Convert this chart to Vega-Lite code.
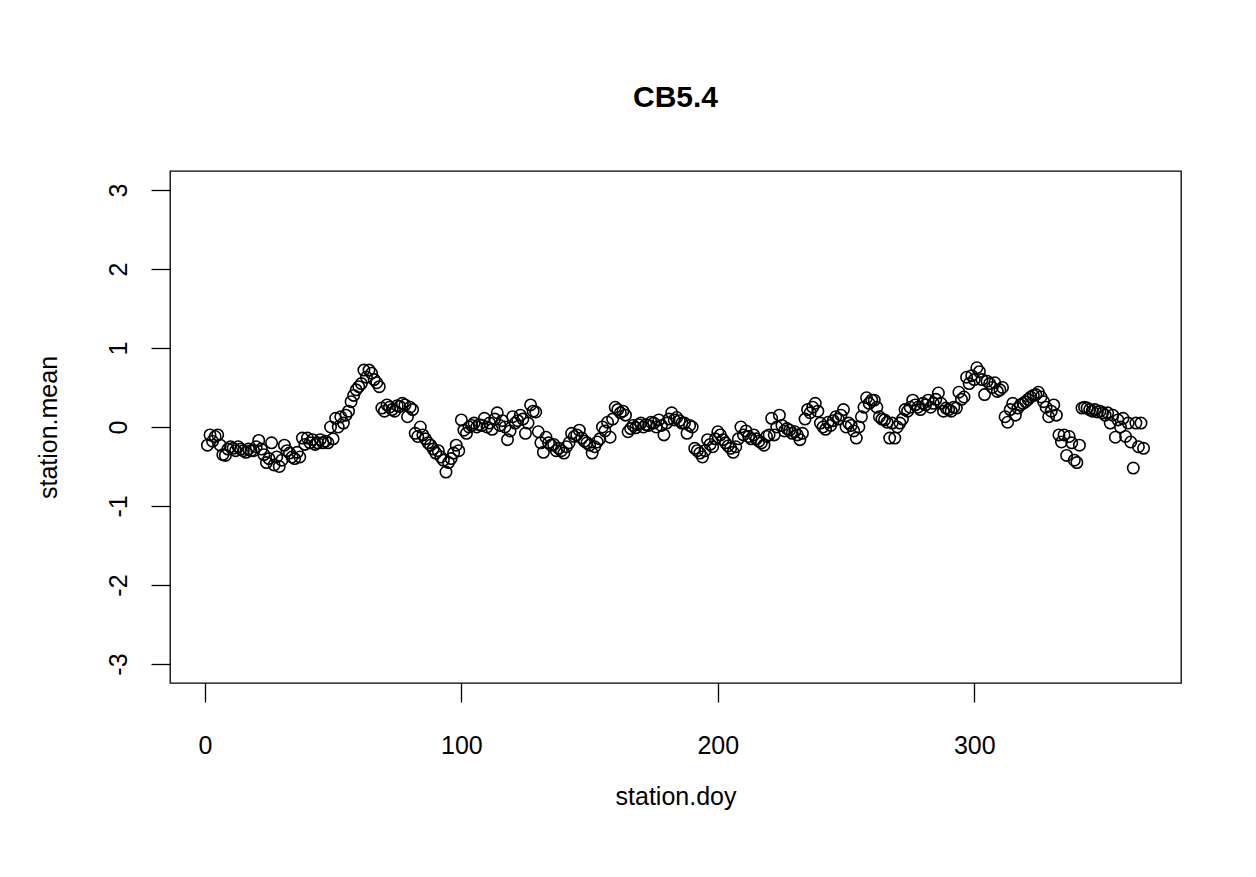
{
  "$schema": "https://vega.github.io/schema/vega-lite/v6.json",
  "width": 1011,
  "height": 512,
  "autosize": {"type": "none"},
  "padding": {"left": 170, "top": 171, "right": 75, "bottom": 194},
  "background": "white",
  "title": {
    "text": "CB5.4",
    "font": "Liberation Sans",
    "fontSize": 30,
    "fontWeight": "bold",
    "color": "black",
    "anchor": "middle",
    "baseline": "bottom",
    "offset": 28
  },
  "config": {
    "view": {"stroke": "black", "strokeWidth": 1.3},
    "axis": {
      "grid": false,
      "domain": false,
      "tickColor": "black",
      "tickWidth": 1.3,
      "tickSize": 19,
      "labelFont": "Liberation Sans",
      "labelFontSize": 25,
      "labelColor": "black",
      "titleFont": "Liberation Sans",
      "titleFontSize": 25,
      "titleFontWeight": "normal",
      "titleColor": "black"
    }
  },
  "data": {
    "values": [
      {"doy":1,"mean":-0.23},{"doy":2,"mean":-0.1},{"doy":3,"mean":-0.18},{"doy":4,"mean":-0.12},{"doy":5,"mean":-0.1},
      {"doy":6,"mean":-0.23},{"doy":7,"mean":-0.35},{"doy":8,"mean":-0.36},{"doy":9,"mean":-0.28},{"doy":10,"mean":-0.25},
      {"doy":11,"mean":-0.27},{"doy":12,"mean":-0.3},{"doy":13,"mean":-0.25},{"doy":14,"mean":-0.28},{"doy":15,"mean":-0.3},
      {"doy":16,"mean":-0.32},{"doy":17,"mean":-0.28},{"doy":18,"mean":-0.3},{"doy":19,"mean":-0.3},{"doy":20,"mean":-0.25},
      {"doy":21,"mean":-0.17},{"doy":22,"mean":-0.28},{"doy":23,"mean":-0.35},{"doy":24,"mean":-0.45},{"doy":25,"mean":-0.4},
      {"doy":26,"mean":-0.2},{"doy":27,"mean":-0.48},{"doy":28,"mean":-0.38},{"doy":29,"mean":-0.5},{"doy":30,"mean":-0.42},
      {"doy":31,"mean":-0.23},{"doy":32,"mean":-0.3},{"doy":33,"mean":-0.33},{"doy":34,"mean":-0.38},{"doy":35,"mean":-0.4},
      {"doy":36,"mean":-0.32},{"doy":37,"mean":-0.38},{"doy":38,"mean":-0.14},{"doy":39,"mean":-0.22},{"doy":40,"mean":-0.14},
      {"doy":41,"mean":-0.2},{"doy":42,"mean":-0.16},{"doy":43,"mean":-0.22},{"doy":44,"mean":-0.2},{"doy":45,"mean":-0.16},
      {"doy":46,"mean":-0.2},{"doy":47,"mean":-0.18},{"doy":48,"mean":-0.2},{"doy":49,"mean":0.0},{"doy":50,"mean":-0.15},
      {"doy":51,"mean":0.11},{"doy":52,"mean":0.0},{"doy":53,"mean":0.13},{"doy":54,"mean":0.05},{"doy":55,"mean":0.15},
      {"doy":56,"mean":0.2},{"doy":57,"mean":0.32},{"doy":58,"mean":0.4},{"doy":59,"mean":0.47},{"doy":60,"mean":0.51},
      {"doy":61,"mean":0.55},{"doy":62,"mean":0.72},{"doy":63,"mean":0.63},{"doy":64,"mean":0.72},{"doy":65,"mean":0.68},
      {"doy":66,"mean":0.6},{"doy":67,"mean":0.56},{"doy":68,"mean":0.51},{"doy":69,"mean":0.24},{"doy":70,"mean":0.2},
      {"doy":71,"mean":0.28},{"doy":72,"mean":0.25},{"doy":73,"mean":0.22},{"doy":74,"mean":0.2},{"doy":75,"mean":0.27},
      {"doy":76,"mean":0.26},{"doy":77,"mean":0.3},{"doy":78,"mean":0.28},{"doy":79,"mean":0.13},{"doy":80,"mean":0.25},
      {"doy":81,"mean":0.22},{"doy":82,"mean":-0.08},{"doy":83,"mean":-0.12},{"doy":84,"mean":0.0},{"doy":85,"mean":-0.1},
      {"doy":86,"mean":-0.15},{"doy":87,"mean":-0.2},{"doy":88,"mean":-0.23},{"doy":89,"mean":-0.28},{"doy":90,"mean":-0.33},
      {"doy":91,"mean":-0.3},{"doy":92,"mean":-0.38},{"doy":93,"mean":-0.42},{"doy":94,"mean":-0.57},{"doy":95,"mean":-0.45},
      {"doy":96,"mean":-0.4},{"doy":97,"mean":-0.33},{"doy":98,"mean":-0.23},{"doy":99,"mean":-0.3},{"doy":100,"mean":0.09},
      {"doy":101,"mean":-0.04},{"doy":102,"mean":-0.08},{"doy":103,"mean":0.0},{"doy":104,"mean":0.02},{"doy":105,"mean":0.05},
      {"doy":106,"mean":0.0},{"doy":107,"mean":0.03},{"doy":108,"mean":0.02},{"doy":109,"mean":0.11},{"doy":110,"mean":0.0},
      {"doy":111,"mean":0.05},{"doy":112,"mean":-0.03},{"doy":113,"mean":0.1},{"doy":114,"mean":0.18},{"doy":115,"mean":0.02},
      {"doy":116,"mean":0.08},{"doy":117,"mean":0.0},{"doy":118,"mean":-0.16},{"doy":119,"mean":-0.05},{"doy":120,"mean":0.13},
      {"doy":121,"mean":0.05},{"doy":122,"mean":0.08},{"doy":123,"mean":0.15},{"doy":124,"mean":0.1},{"doy":125,"mean":-0.08},
      {"doy":126,"mean":0.05},{"doy":127,"mean":0.28},{"doy":128,"mean":0.2},{"doy":129,"mean":0.19},{"doy":130,"mean":-0.06},
      {"doy":131,"mean":-0.2},{"doy":132,"mean":-0.32},{"doy":133,"mean":-0.13},{"doy":134,"mean":-0.2},{"doy":135,"mean":-0.23},
      {"doy":136,"mean":-0.22},{"doy":137,"mean":-0.3},{"doy":138,"mean":-0.27},{"doy":139,"mean":-0.3},{"doy":140,"mean":-0.33},
      {"doy":141,"mean":-0.25},{"doy":142,"mean":-0.2},{"doy":143,"mean":-0.08},{"doy":144,"mean":-0.12},{"doy":145,"mean":-0.1},
      {"doy":146,"mean":-0.04},{"doy":147,"mean":-0.14},{"doy":148,"mean":-0.18},{"doy":149,"mean":-0.2},{"doy":150,"mean":-0.23},
      {"doy":151,"mean":-0.33},{"doy":152,"mean":-0.25},{"doy":153,"mean":-0.19},{"doy":154,"mean":-0.15},{"doy":155,"mean":0.0},
      {"doy":156,"mean":-0.05},{"doy":157,"mean":0.06},{"doy":158,"mean":-0.13},{"doy":159,"mean":0.1},{"doy":160,"mean":0.25},
      {"doy":161,"mean":0.22},{"doy":162,"mean":0.18},{"doy":163,"mean":0.2},{"doy":164,"mean":0.15},{"doy":165,"mean":-0.06},
      {"doy":166,"mean":-0.02},{"doy":167,"mean":0.02},{"doy":168,"mean":-0.01},{"doy":169,"mean":0.03},{"doy":170,"mean":0.05},
      {"doy":171,"mean":0.0},{"doy":172,"mean":0.03},{"doy":173,"mean":0.02},{"doy":174,"mean":0.06},{"doy":175,"mean":0.05},
      {"doy":176,"mean":0.0},{"doy":177,"mean":0.09},{"doy":178,"mean":0.02},{"doy":179,"mean":-0.1},{"doy":180,"mean":0.05},
      {"doy":181,"mean":0.1},{"doy":182,"mean":0.18},{"doy":183,"mean":0.09},{"doy":184,"mean":0.12},{"doy":185,"mean":0.08},
      {"doy":186,"mean":0.05},{"doy":187,"mean":0.05},{"doy":188,"mean":-0.08},{"doy":189,"mean":0.02},{"doy":190,"mean":0.0},
      {"doy":191,"mean":-0.27},{"doy":192,"mean":-0.3},{"doy":193,"mean":-0.33},{"doy":194,"mean":-0.38},{"doy":195,"mean":-0.3},
      {"doy":196,"mean":-0.16},{"doy":197,"mean":-0.22},{"doy":198,"mean":-0.25},{"doy":199,"mean":-0.15},{"doy":200,"mean":-0.06},
      {"doy":201,"mean":-0.1},{"doy":202,"mean":-0.16},{"doy":203,"mean":-0.2},{"doy":204,"mean":-0.24},{"doy":205,"mean":-0.27},
      {"doy":206,"mean":-0.32},{"doy":207,"mean":-0.25},{"doy":208,"mean":-0.15},{"doy":209,"mean":0.0},{"doy":210,"mean":-0.1},
      {"doy":211,"mean":-0.05},{"doy":212,"mean":-0.12},{"doy":213,"mean":-0.15},{"doy":214,"mean":-0.1},{"doy":215,"mean":-0.15},
      {"doy":216,"mean":-0.18},{"doy":217,"mean":-0.2},{"doy":218,"mean":-0.23},{"doy":219,"mean":-0.12},{"doy":220,"mean":-0.1},
      {"doy":221,"mean":0.11},{"doy":222,"mean":-0.1},{"doy":223,"mean":0.0},{"doy":224,"mean":0.15},{"doy":225,"mean":0.02},
      {"doy":226,"mean":-0.05},{"doy":227,"mean":-0.02},{"doy":228,"mean":-0.04},{"doy":229,"mean":-0.08},{"doy":230,"mean":-0.06},
      {"doy":231,"mean":-0.1},{"doy":232,"mean":-0.16},{"doy":233,"mean":-0.08},{"doy":234,"mean":0.1},{"doy":235,"mean":0.22},
      {"doy":236,"mean":0.18},{"doy":237,"mean":0.25},{"doy":238,"mean":0.3},{"doy":239,"mean":0.2},{"doy":240,"mean":0.05},
      {"doy":241,"mean":0.0},{"doy":242,"mean":-0.03},{"doy":243,"mean":0.06},{"doy":244,"mean":0.02},{"doy":245,"mean":0.08},
      {"doy":246,"mean":0.13},{"doy":247,"mean":0.1},{"doy":248,"mean":0.15},{"doy":249,"mean":0.22},{"doy":250,"mean":0.0},
      {"doy":251,"mean":0.05},{"doy":252,"mean":0.02},{"doy":253,"mean":-0.05},{"doy":254,"mean":-0.14},{"doy":255,"mean":0.0},
      {"doy":256,"mean":0.13},{"doy":257,"mean":0.25},{"doy":258,"mean":0.37},{"doy":259,"mean":0.3},{"doy":260,"mean":0.34},
      {"doy":261,"mean":0.34},{"doy":262,"mean":0.25},{"doy":263,"mean":0.13},{"doy":264,"mean":0.1},{"doy":265,"mean":0.09},
      {"doy":266,"mean":0.06},{"doy":267,"mean":-0.14},{"doy":268,"mean":0.05},{"doy":269,"mean":-0.14},{"doy":270,"mean":0.0},
      {"doy":271,"mean":0.05},{"doy":272,"mean":0.1},{"doy":273,"mean":0.22},{"doy":274,"mean":0.2},{"doy":275,"mean":0.25},
      {"doy":276,"mean":0.34},{"doy":277,"mean":0.28},{"doy":278,"mean":0.25},{"doy":279,"mean":0.22},{"doy":280,"mean":0.3},
      {"doy":281,"mean":0.28},{"doy":282,"mean":0.34},{"doy":283,"mean":0.25},{"doy":284,"mean":0.3},{"doy":285,"mean":0.35},
      {"doy":286,"mean":0.43},{"doy":287,"mean":0.3},{"doy":288,"mean":0.2},{"doy":289,"mean":0.24},{"doy":290,"mean":0.22},
      {"doy":291,"mean":0.2},{"doy":292,"mean":0.25},{"doy":293,"mean":0.24},{"doy":294,"mean":0.44},{"doy":295,"mean":0.35},
      {"doy":296,"mean":0.38},{"doy":297,"mean":0.63},{"doy":298,"mean":0.55},{"doy":299,"mean":0.65},{"doy":300,"mean":0.6},
      {"doy":301,"mean":0.75},{"doy":302,"mean":0.7},{"doy":303,"mean":0.6},{"doy":304,"mean":0.41},{"doy":305,"mean":0.58},
      {"doy":306,"mean":0.55},{"doy":307,"mean":0.5},{"doy":308,"mean":0.56},{"doy":309,"mean":0.45},{"doy":310,"mean":0.47},
      {"doy":311,"mean":0.5},{"doy":312,"mean":0.13},{"doy":313,"mean":0.06},{"doy":314,"mean":0.22},{"doy":315,"mean":0.3},
      {"doy":316,"mean":0.15},{"doy":317,"mean":0.24},{"doy":318,"mean":0.28},{"doy":319,"mean":0.3},{"doy":320,"mean":0.32},
      {"doy":321,"mean":0.35},{"doy":322,"mean":0.38},{"doy":323,"mean":0.4},{"doy":324,"mean":0.41},{"doy":325,"mean":0.44},
      {"doy":326,"mean":0.38},{"doy":327,"mean":0.32},{"doy":328,"mean":0.25},{"doy":329,"mean":0.13},{"doy":330,"mean":0.2},
      {"doy":331,"mean":0.28},{"doy":332,"mean":0.15},{"doy":333,"mean":-0.1},{"doy":334,"mean":-0.19},{"doy":335,"mean":-0.1},
      {"doy":336,"mean":-0.36},{"doy":337,"mean":-0.12},{"doy":338,"mean":-0.2},{"doy":339,"mean":-0.42},{"doy":340,"mean":-0.45},
      {"doy":341,"mean":-0.23},{"doy":342,"mean":0.24},{"doy":343,"mean":0.25},{"doy":344,"mean":0.24},{"doy":345,"mean":0.22},
      {"doy":346,"mean":0.2},{"doy":347,"mean":0.22},{"doy":348,"mean":0.19},{"doy":349,"mean":0.2},{"doy":350,"mean":0.18},
      {"doy":351,"mean":0.15},{"doy":352,"mean":0.18},{"doy":353,"mean":0.05},{"doy":354,"mean":0.15},{"doy":355,"mean":-0.13},
      {"doy":356,"mean":0.09},{"doy":357,"mean":0.0},{"doy":358,"mean":0.11},{"doy":359,"mean":-0.12},{"doy":360,"mean":0.05},
      {"doy":361,"mean":-0.19},{"doy":362,"mean":-0.52},{"doy":363,"mean":0.05},{"doy":364,"mean":-0.25},{"doy":365,"mean":0.05},
      {"doy":366,"mean":-0.27}
    ]
  },
  "mark": {"type": "point", "shape": "circle", "filled": false, "stroke": "black", "strokeWidth": 1.6, "size": 130, "opacity": 1},
  "encoding": {
    "x": {
      "field": "doy",
      "type": "quantitative",
      "title": "station.doy",
      "scale": {"domain": [-13.6, 380.6], "nice": false, "zero": false},
      "axis": {"values": [0, 100, 200, 300], "labelPadding": 31, "titlePadding": 26, "labelExpr": "'' + datum.value"}
    },
    "y": {
      "field": "mean",
      "type": "quantitative",
      "title": "station.mean",
      "scale": {"domain": [-3.24, 3.24], "nice": false, "zero": false},
      "axis": {"values": [-3, -2, -1, 0, 1, 2, 3], "labelAngle": 270, "labelAlign": "center", "labelBaseline": "bottom", "labelPadding": 20, "titlePadding": 45, "labelExpr": "'' + datum.value"}
    }
  }
}
